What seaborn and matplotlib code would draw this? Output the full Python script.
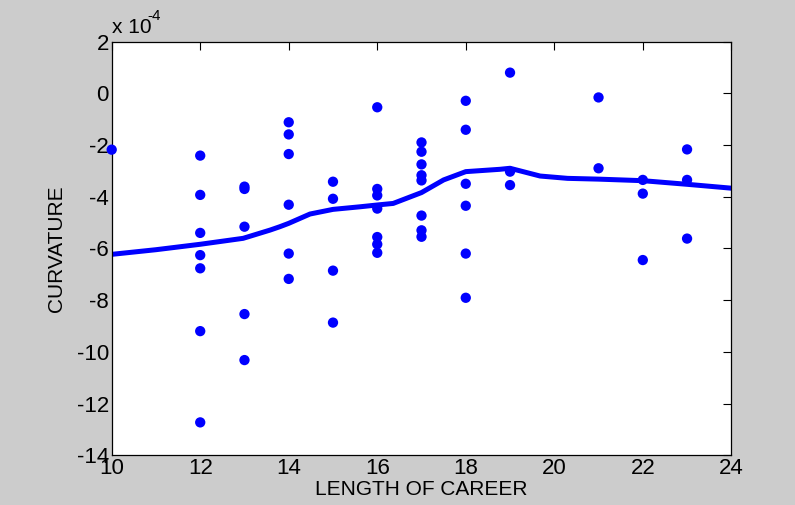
import numpy as np
import pandas as pd
import seaborn as sns
from matplotlib import pyplot as plt

# career length (x) and curvature in units of 1e-4 (y)
career = [10,
          12, 12, 12, 12, 12, 12, 12,
          13, 13, 13, 13, 13,
          14, 14, 14, 14, 14, 14,
          15, 15, 15, 15,
          16, 16, 16, 16, 16, 16, 16,
          17, 17, 17, 17, 17, 17, 17, 17,
          18, 18, 18, 18, 18, 18,
          19, 19, 19,
          21, 21,
          22, 22, 22,
          23, 23, 23]
curvature = [-2.18,
             -2.41, -3.93, -5.40, -6.26, -6.77, -9.20, -12.73,
             -3.61, -3.70, -5.16, -8.54, -10.32,
             -1.12, -1.59, -2.35, -4.31, -6.20, -7.18,
             -3.42, -4.08, -6.86, -8.87,
             -0.54, -3.70, -3.95, -4.46, -5.56, -5.84, -6.17,
             -1.90, -2.26, -2.75, -3.17, -3.37, -4.73, -5.30, -5.55,
             -0.29, -1.41, -3.50, -4.35, -6.20, -7.91,
             0.80, -3.03, -3.55,
             -0.16, -2.90,
             -3.35, -3.88, -6.45,
             -2.17, -3.35, -5.62]

# smoothed trend line
trend_x = [10.0, 11.0, 12.0, 12.97, 13.58, 13.8, 14.0, 14.48, 15.0, 15.61, 16.0,
           16.36, 17.0, 17.5, 18.0, 18.77, 19.0, 19.68, 20.3, 21.0, 22.0, 23.0, 24.0]
trend_y = [-6.23, -6.05, -5.84, -5.61, -5.29, -5.16, -5.03, -4.67, -4.49, -4.39, -4.32,
           -4.26, -3.84, -3.35, -3.03, -2.94, -2.90, -3.20, -3.29, -3.32, -3.38, -3.52, -3.67]

y_ticks = [2, 0, -2, -4, -6, -8, -10, -12, -14]
x_ticks = [10, 12, 14, 16, 18, 20, 22, 24]

pts = pd.DataFrame({'career': career, 'curvature': curvature})
trend = pd.DataFrame({'career': trend_x, 'curvature': trend_y})

sns.set_style('white')
plt.rcParams['font.family'] = ['Liberation Sans', 'DejaVu Sans']
plt.rcParams['axes.unicode_minus'] = False
plt.rcParams['text.color'] = 'black'
plt.rcParams['axes.labelcolor'] = 'black'

fig = plt.figure(figsize=(7.95, 5.05), dpi=100, facecolor='#cccccc')
ax = fig.add_axes([0.1405, 0.0986, 0.7794, 0.819])
ax.set_facecolor('white')

sns.lineplot(data=trend, x='career', y='curvature', ax=ax, color='#0000ff',
             linewidth=3.6, estimator=None, sort=False)
sns.scatterplot(data=pts, x='career', y='curvature', ax=ax, color='#0000ff',
                s=55, edgecolor='none', clip_on=False, zorder=3)

ax.set_xlim(10, 24)
ax.set_ylim(-14, 2)
ax.set_xticks(x_ticks)
ax.set_yticks(y_ticks)
ax.set_xticklabels([str(v) for v in x_ticks], fontsize=16)
ax.set_yticklabels([str(v) for v in y_ticks], fontsize=16)
ax.tick_params(direction='in', length=6, width=0.8, top=True, right=True,
               colors='black', labelcolor='black', pad=2)
for spine in ax.spines.values():
    spine.set_visible(True)
    spine.set_color('black')
    spine.set_linewidth(0.9)

ax.set_xlabel('LENGTH OF CAREER', fontsize=15, labelpad=1)
ax.set_ylabel('CURVATURE', fontsize=15, labelpad=8)

# exponent label, MATLAB style
ax.text(0.0, 1.012, 'x 10', transform=ax.transAxes, fontsize=15,
        ha='left', va='bottom')
ax.text(0.058, 1.045, '-4', transform=ax.transAxes, fontsize=11,
        ha='left', va='bottom')

fig.savefig('out.png', dpi=100, facecolor=fig.get_facecolor())
